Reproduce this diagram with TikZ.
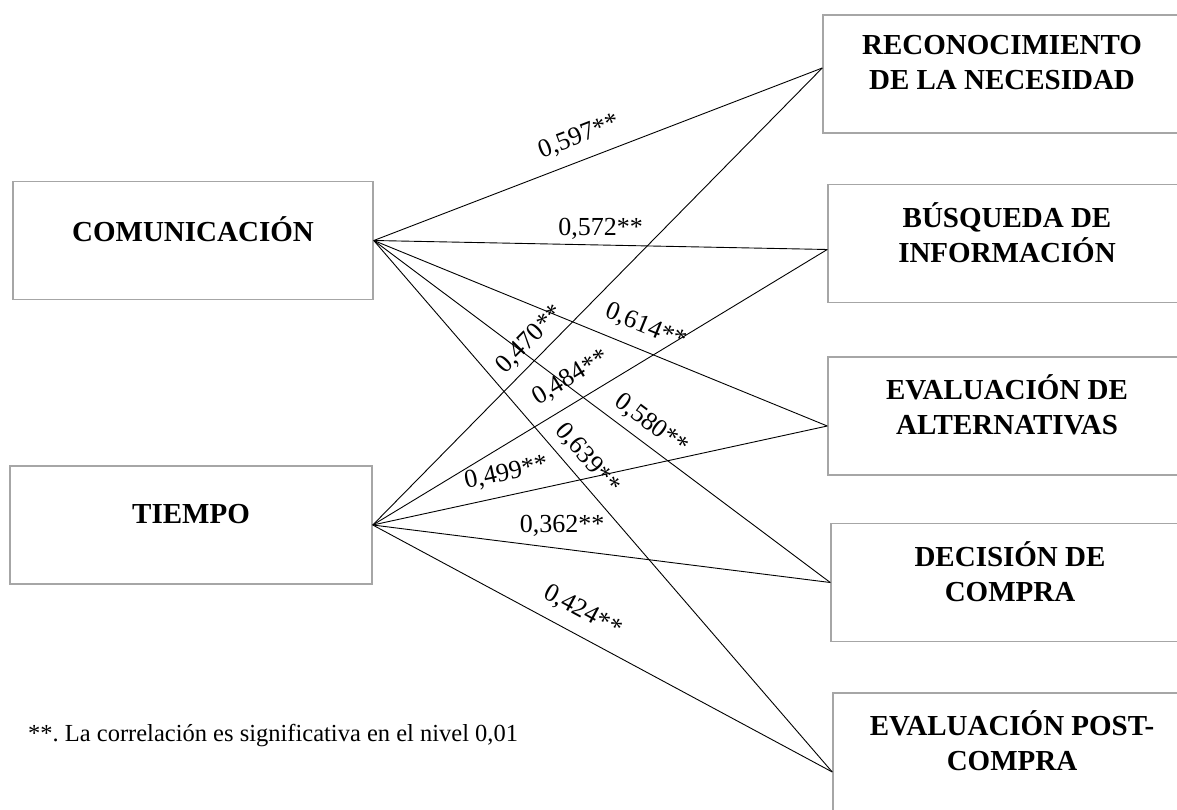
\documentclass[tikz,border=0pt]{standalone}
\usepackage{fontspec}
\setmainfont{Liberation Serif}
\usetikzlibrary{positioning}

\begin{document}
\begin{tikzpicture}[
    x=1pt, y=-1pt,
    %% ── Box styles ──────────────────────────────────────────────────────
    box/.style={
        draw=black!35, line width=1.5pt,
        minimum width=#1, minimum height=118pt,
        inner sep=0pt,
    },
    boxtext/.style={
        font=\fontsize{29}{35}\selectfont\bfseries,
        align=center, yshift=11pt,
    },
    %% ── Connector styles ────────────────────────────────────────────────
    conn/.style={draw=black, line width=0.9pt},
    lbl/.style={font=\fontsize{26}{30}\selectfont, inner sep=2pt},
    nota/.style={font=\fontsize{24.5}{28}\selectfont, inner sep=0pt, anchor=base west},
]
\useasboundingbox (0,0) rectangle (1177,810);
\clip (0,0) rectangle (1177,810);

%%─────────────────────────────────────────────────────────────────────────
%% Dimensiones (izquierda)
%%─────────────────────────────────────────────────────────────────────────
\node[box=360pt, label={[boxtext]center:COMUNICACIÓN}] (com) at (193,240.5) {};
\node[box=362pt, label={[boxtext]center:TIEMPO}]       (tie) at (191,525) {};

%%─────────────────────────────────────────────────────────────────────────
%% Etapas de compra (derecha)
%%─────────────────────────────────────────────────────────────────────────
\node[box=358pt, label={[boxtext]center:{RECONOCIMIENTO\\DE LA NECESIDAD}}] (rec) at (1002,74) {};
\node[box=358pt, label={[boxtext]center:{BÚSQUEDA DE\\INFORMACIÓN}}]        (bus) at (1007,243.5) {};
\node[box=358pt, label={[boxtext]center:{EVALUACIÓN DE\\ALTERNATIVAS}}]      (eva) at (1007,416) {};
\node[box=358pt, label={[boxtext]center:{DECISIÓN DE\\COMPRA}}]             (dec) at (1010,582.5) {};
\node[box=358pt, label={[boxtext]center:{EVALUACIÓN POST-\\COMPRA}}]        (pst) at (1012,752) {};

%%─────────────────────────────────────────────────────────────────────────
%% Correlaciones
%%─────────────────────────────────────────────────────────────────────────
%% COMUNICACIÓN
\draw[conn] (com.east) -- ([yshift=6pt]rec.west)
    node[lbl, sloped, pos=.476, above=10pt] {0,597**};
\draw[conn] (com.east) -- ([yshift=-6pt]bus.west)
    node[lbl, pos=.5, above=3.5pt] {0,572**};
\draw[conn] (com.east) -- ([yshift=-10pt]eva.west)
    node[lbl, sloped, pos=.58, above=10pt] {0,614**};
\draw[conn] (com.east) -- (dec.west)
    node[lbl, sloped, pos=.583, above=6pt] {0,580**};
\draw[conn] (com.east) -- ([yshift=-20pt]pst.west)
    node[lbl, sloped, pos=.434, above=6pt] {0,639**};

%% TIEMPO
\draw[conn] (tie.east) -- ([yshift=6pt]rec.west)
    node[lbl, sloped, pos=.378, above=4.8pt] {0,470**};
\draw[conn] (tie.east) -- ([yshift=-6pt]bus.west)
    node[lbl, sloped, pos=.462, above=10pt] {0,484**};
\draw[conn] (tie.east) -- ([yshift=-10pt]eva.west)
    node[lbl, sloped, pos=.304, above=8.8pt] {0,499**};
\draw[conn] (tie.east) -- (dec.west)
    node[lbl, pos=.414, above=10pt] {0,362**};
\draw[conn] (tie.east) -- ([yshift=-20pt]pst.west)
    node[lbl, sloped, pos=.4325, above=10pt] {0,424**};

%% Nota
\node[nota] (nota) at (28,741) {**.\ La correlación es significativa en el nivel 0,01};

\end{tikzpicture}
\end{document}
